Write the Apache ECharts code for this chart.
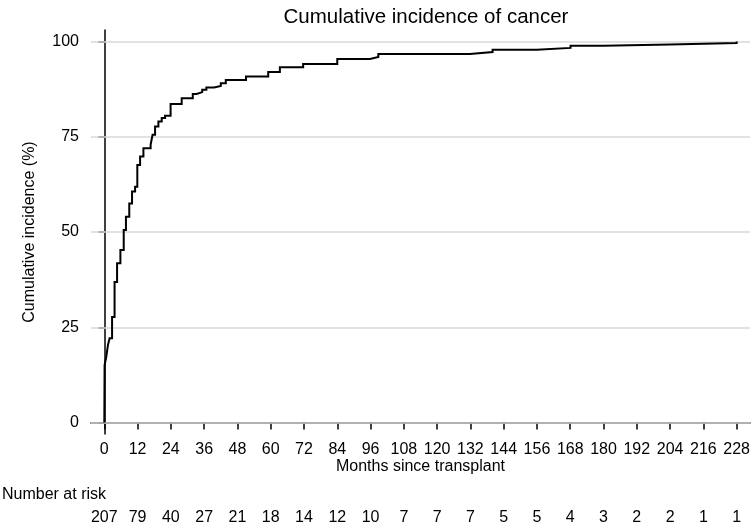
<!DOCTYPE html>
<html><head><meta charset="utf-8">
<script src="https://cdn.jsdelivr.net/npm/echarts@6/dist/echarts.min.js"></script>
<style>html,body{margin:0;padding:0;background:#fff}#c{width:753px;height:527px}</style>
</head><body><div id="c"></div>
<script>
const months = [0, 0.1, 0.7, 1.3, 1.9, 2.8, 3.7, 4.6, 5.8, 7.0, 7.8, 9.0, 10.0, 11.1, 11.9, 12.9, 14.1, 16.7, 17.4, 18.3, 19.5, 20.7, 21.9, 23.9, 27.9, 31.9, 33.3, 35.3, 36.8, 39.6, 42.0, 43.8, 51.1, 59.1, 63.3, 71.7, 84.0, 95.8, 98.8, 131.8, 140.0, 155.9, 168.1, 179.9, 203.9, 228];
const incidence = [0, 15.1, 17.2, 20.3, 22.1, 27.7, 36.9, 41.8, 45.3, 50.5, 54.0, 57.5, 60.6, 61.9, 67.6, 69.8, 72.0, 72.9, 75.5, 77.7, 79.0, 79.9, 80.5, 83.6, 85.1, 86.2, 86.7, 87.3, 87.9, 88.3, 89.0, 89.9, 90.8, 92.0, 93.2, 94.1, 95.4, 95.9, 96.7, 97.2, 97.8, 98.3, 98.9, 99.2, 99.6, 100];
const xTicks = [0, 12, 24, 36, 48, 60, 72, 84, 96, 108, 120, 132, 144, 156, 168, 180, 192, 204, 216, 228];
const atRisk = [207, 79, 40, 27, 21, 18, 14, 12, 10, 7, 7, 7, 5, 5, 4, 3, 2, 2, 1, 1];
const yTicks = [0, 25, 50, 75, 100];

const FONT = "'Liberation Sans', Arial, Helvetica, sans-serif";
const chart = echarts.init(document.getElementById('c'), null, {renderer: 'canvas'});
// step function: horizontal at previous value, then vertical jump at each event time
const pts = [];
months.forEach((m, i) => {
  if (i > 0) pts.push([m, incidence[i - 1]]);
  pts.push([m, incidence[i]]);
});
chart.setOption({
  animation: false,
  backgroundColor: '#fff',
  title: {
    text: 'Cumulative incidence of cancer',
    left: 421, top: 2, textAlign: 'center',
    textStyle: {fontFamily: FONT, fontSize: 20.5, fontWeight: 'normal', color: '#000'}
  },
  graphic: [{
    type: 'text', left: 2, top: 487,
    style: {text: 'Number at risk', font: '16px ' + FONT, fill: '#000'}
  }],
  grid: {left: 91, right: 3, top: 30, bottom: 93, containLabel: false},
  xAxis: [{
    type: 'value', min: -4.8, max: 232.8,
    name: 'Months since transplant', nameLocation: 'middle', nameGap: 25, nameMoveOverlap: false,
    nameTextStyle: {fontFamily: FONT, fontSize: 16, color: '#000'},
    axisLine: {show: true, lineStyle: {color: '#000', width: 1.5}},
    axisTick: {show: true, length: 7, customValues: xTicks, lineStyle: {color: '#000', width: 1.5}},
    axisLabel: {customValues: xTicks, margin: 8, fontFamily: FONT, fontSize: 16, color: '#000'},
    splitLine: {show: false}
  }, {
    type: 'value', min: -4.8, max: 232.8, position: 'bottom', offset: 72,
    axisLine: {show: false}, axisTick: {show: false}, splitLine: {show: false},
    axisLabel: {customValues: xTicks, margin: 4, fontFamily: FONT, fontSize: 16, color: '#000',
      formatter: v => String(atRisk[xTicks.indexOf(v)])}
  }],
  yAxis: {
    type: 'value', min: -3, max: 103,
    name: 'Cumulative incidence (%)', nameLocation: 'middle', nameGap: 53, nameRotate: 90, nameMoveOverlap: false,
    nameTextStyle: {fontFamily: FONT, fontSize: 16, color: '#000'},
    axisLine: {show: true, lineStyle: {color: '#000', width: 1.5}},
    axisTick: {show: true, length: 6, customValues: yTicks, lineStyle: {color: '#000', width: 1.5}},
    axisLabel: {customValues: yTicks, margin: 12, fontFamily: FONT, fontSize: 16, color: '#000'},
    splitLine: {show: false}
  },
  series: [{
    type: 'line', xAxisIndex: 0, data: pts, showSymbol: false, z: 3,
    lineStyle: {color: '#000', width: 2, join: 'miter'},
    markLine: {
      silent: true, symbol: 'none', z: 1, label: {show: false},
      lineStyle: {color: '#d9d9d9', width: 1.5, type: 'solid'},
      data: yTicks.map(v => ({yAxis: v}))
    }
  }]
});
</script></body></html>
